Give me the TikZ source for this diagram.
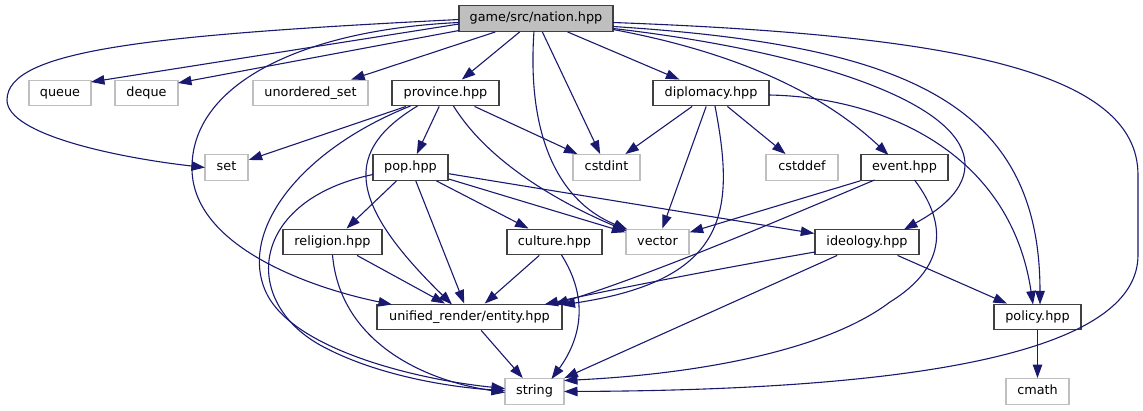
\documentclass[tikz,border=0pt]{standalone}
\usepackage{fontspec}
\setmainfont{DejaVu Sans}
\usetikzlibrary{arrows.meta,calc}
\definecolor{edgec}{HTML}{191970}
\definecolor{extc}{HTML}{BFBFBF}
\definecolor{intc}{HTML}{404040}
\begin{document}
\begin{tikzpicture}[x=1pt,y=-1pt,
  box/.style={draw=intc, line width=1.4pt, fill=white, minimum height=25.5pt, inner sep=0pt,
    text height=9.5pt, text depth=3pt, font=\fontsize{12.8}{15}\selectfont, text=black},
  ext/.style={box, draw=extc},
  root/.style={box, fill=extc},
  edge/.style={draw=edgec, line width=1.1pt, -{Triangle[length=13.5pt,width=9.5pt]}}]
\useasboundingbox (0,0) rectangle (1143,411);

\node[root, minimum width=154pt] (nation) at (536,18.5) {game/src/nation.hpp};
\node[ext, minimum width=62pt] (queue) at (60,93) {queue};
\node[ext, minimum width=63pt] (deque) at (146.5,93) {deque};
\node[ext, minimum width=115pt] (uset) at (310.5,93) {unordered\_set};
\node[box, minimum width=107pt] (province) at (445.5,93) {province.hpp};
\node[box, minimum width=116pt] (diplomacy) at (711,93) {diplomacy.hpp};
\node[ext, minimum width=43pt] (set) at (226.5,167.5) {set};
\node[box, minimum width=75pt] (pop) at (410.5,167.5) {pop.hpp};
\node[ext, minimum width=67pt] (cstdint) at (606.5,167.5) {cstdint};
\node[ext, minimum width=72pt] (cstddef) at (802,167.5) {cstddef};
\node[box, minimum width=87pt] (event) at (904.5,167.5) {event.hpp};
\node[box, minimum width=99pt] (religion) at (332.5,242) {religion.hpp};
\node[box, minimum width=95pt] (culture) at (554.5,242) {culture.hpp};
\node[ext, minimum width=63pt] (vector) at (657.5,242) {vector};
\node[box, minimum width=104pt] (ideology) at (867,242) {ideology.hpp};
\node[box, minimum width=185pt] (entity) at (469.5,317) {unified\_render/entity.hpp};
\node[box, minimum width=87pt] (policy) at (1037.5,317) {policy.hpp};
\node[ext, minimum width=59pt] (string) at (534.5,391.5) {string};
\node[ext, minimum width=63pt] (cmath) at (1037.5,391.5) {cmath};

% from nation
\draw[edge] ($(nation)+(-77,5.5)$) -- ($(queue)+(31,-11)$);
\draw[edge] ($(nation)+(-77,12)$) -- ($(deque)+(31.5,-10)$);
\draw[edge] ($(nation)+(-77,1)$) .. controls (150,35) and (7,50) .. (7,100)
  .. controls (7,135) and (120,158) .. ($(set)+(-21.5,0)$);
\draw[edge] (nation) -- (uset);
\draw[edge] ($(nation)+(-77,4)$) .. controls (300,30) and (190,85) .. (192,170)
  .. controls (194,250) and (320,290) .. ($(entity)+(-77.5,-12.5)$);
\draw[edge] (nation) -- (province);
\draw[edge] ($(nation)+(-2,12.5)$) .. controls (527,130) and (555,200) .. ($(vector)+(-30,-12.5)$);
\draw[edge] (nation) -- (cstdint);
\draw[edge] (nation) -- (diplomacy);
\draw[edge] ($(nation)+(77,11)$) .. controls (750,55) and (830,100) .. ($(event)+(-16,-12.5)$);
\draw[edge] ($(nation)+(77,10)$) .. controls (800,50) and (965,100) .. (965,165)
  .. controls (965,195) and (930,215) .. ($(ideology)+(37,-12.5)$);
\draw[edge] ($(nation)+(77,8)$) .. controls (900,45) and (1040,100) .. ($(policy)+(2.5,-12.5)$);
\draw[edge] ($(nation)+(77,4)$) .. controls (950,35) and (1138,70) .. (1138,175) -- (1138,255)
  .. controls (1138,345) and (950,390) .. ($(string)+(29.5,0)$);

% from province
\draw[edge] (province) -- (set);
\draw[edge] (province) -- (pop);
\draw[edge] (province) -- (cstdint);
\draw[edge] ($(province)+(8,13)$) .. controls (490,165) and (565,205) .. ($(vector)+(-31,-11)$);
\draw[edge] ($(province)+(-28,13)$) .. controls (345,150) and (345,200) .. ($(entity)+(-17.5,-12.5)$);
\draw[edge] ($(province)+(-35,13)$) .. controls (300,150) and (240,230) .. (265,290)
  .. controls (290,350) and (420,380) .. ($(string)+(-29.5,-3)$);

% from diplomacy
\draw[edge] (diplomacy) -- (cstdint);
\draw[edge] (diplomacy) -- (cstddef);
\draw[edge] (diplomacy) -- (vector);
\draw[edge] ($(diplomacy)+(4,13)$) .. controls (735,210) and (730,280) .. ($(entity)+(92,-12)$);
\draw[edge] ($(diplomacy)+(58,2)$) .. controls (880,97) and (1010,150) .. ($(policy)+(-4.5,-12.5)$);

% from pop
\draw[edge] (pop) -- (religion);
\draw[edge] (pop) -- (culture);
\draw[edge] (pop) -- (vector);
\draw[edge] (pop) -- (ideology);
\draw[edge] (pop) -- (entity);
\draw[edge] ($(pop)+(-37.5,7)$) .. controls (250,200) and (240,300) .. (320,345)
  .. controls (380,378) and (460,388) .. ($(string)+(-29.5,-1)$);

% from event
\draw[edge] (event) -- (vector);
\draw[edge] ($(event)+(-30,12.5)$) .. controls (780,220) and (650,275) .. ($(entity)+(85,-12.5)$);
\draw[edge] ($(event)+(10,12.5)$) .. controls (945,220) and (950,265) .. (890,302)
  .. controls (820,355) and (680,375) .. ($(string)+(29.5,-11)$);

% from religion
\draw[edge] (religion) -- (entity);
\draw[edge] ($(religion)+(0,13)$) .. controls (340,340) and (420,380) .. ($(string)+(-29.5,1)$);

% from culture
\draw[edge] (culture) -- (entity);
\draw[edge] ($(culture)+(7,13)$) .. controls (590,300) and (580,340) .. ($(string)+(17,-12.5)$);

% from ideology
\draw[edge] ($(ideology)+(-52,10)$) .. controls (700,272) and (600,292) .. ($(entity)+(75,-12.5)$);
\draw[edge] (ideology) -- (string);
\draw[edge] (ideology) -- (policy);

% others
\draw[edge] (entity) -- (string);
\draw[edge] (policy) -- (cmath);
\end{tikzpicture}
\end{document}
